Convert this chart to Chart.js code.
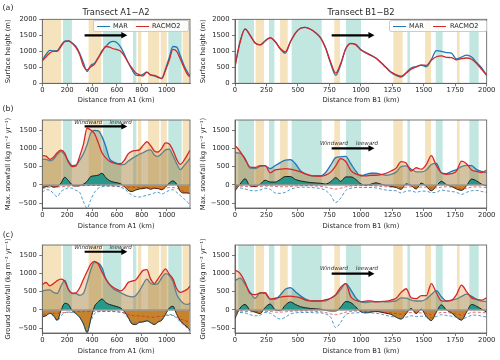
<!DOCTYPE html>
<html>
<head>
<meta charset="utf-8">
<script src="https://cdn.jsdelivr.net/npm/chart.js@4.4.0/dist/chart.umd.min.js"></script>
<style>
  body { margin: 0; width: 500px; height: 360px; position: relative; overflow: hidden; background: #fff;
         font-family: "DejaVu Sans", sans-serif; color: #262626; }
  canvas { position: absolute; }
  .t { position: absolute; transform: translate(-50%, -50%); line-height: 1; white-space: nowrap; }
  .leg { position: absolute; height: 12px; box-sizing: border-box; border: 0.8px solid #ccc; border-radius: 2px;
         background: rgba(255,255,255,0.85); font-size: 6.6px; }
  .leg i { position: absolute; top: 5.2px; width: 13px; height: 1.3px; }
  .leg span { position: absolute; top: 50%; transform: translateY(-50%); line-height: 1; white-space: nowrap; }
</style>
</head>
<body>
<canvas id="aL" width="195" height="94" style="left:0;top:12px"></canvas>
<canvas id="aR" width="305" height="94" style="left:195px;top:12px"></canvas>
<canvas id="bL" width="195" height="120" style="left:0;top:112px"></canvas>
<canvas id="bR" width="305" height="120" style="left:195px;top:112px"></canvas>
<canvas id="cL" width="195" height="120" style="left:0;top:237px"></canvas>
<canvas id="cR" width="305" height="120" style="left:195px;top:237px"></canvas>

<div class="t" style="left:8px;top:8px;font-size:7.8px">(a)</div>
<div class="t" style="left:8px;top:109px;font-size:7.8px">(b)</div>
<div class="t" style="left:8px;top:235px;font-size:7.8px">(c)</div>
<div class="t" style="left:116px;top:12.3px;font-size:8.4px">Transect A1−A2</div>
<div class="t" style="left:361px;top:12.3px;font-size:8.4px">Transect B1−B2</div>

<div class="leg" style="left:93px;top:20px;width:96px">
  <i style="left:3px;background:#1f77b4"></i><span style="left:19px">MAR</span>
  <i style="left:42px;background:#d62728"></i><span style="left:58px">RACMO2</span>
</div>
<div class="leg" style="left:389px;top:20px;width:98px">
  <i style="left:3px;background:#1f77b4"></i><span style="left:19px">MAR</span>
  <i style="left:43px;background:#d62728"></i><span style="left:60px">RACMO2</span>
</div>

<script>
// distance along the transects (km)
const distA = [0,30,60,90,120,150,180,210,240,270,300,330,360,390,420,450,480,510,540,570,600,630,660,690,720,750,780,810,840,870,900,930,960,990,1020,1050,1080,1110,1140,1170,1185];
const distB = [0,40,80,120,160,200,240,280,320,360,400,440,480,520,560,600,640,680,720,760,800,840,880,920,960,1000,1040,1080,1120,1160,1200,1240,1280,1320,1360,1400,1440,1480,1520,1560,1600,1640,1680,1720,1760,1800,1840,1880,1920,1960,2000];

const tickA = [0,200,400,600,800,1000];
const tickB = [0,250,500,750,1000,1250,1500,1750,2000];
const heightTicks = [0,500,1000,1500,2000];
const snowTicks = [-500,0,500,1000,1500];

// (a) surface height (m)
const heightMarA = [730,900,1030,1010,1020,1180,1320,1330,1260,1150,940,650,370,560,630,800,1020,1150,1270,1310,1270,1130,900,650,430,260,240,280,350,260,230,180,150,450,800,1150,1130,850,550,330,240];
const heightRacA = [700,820,950,1000,1000,1150,1300,1320,1250,1120,900,550,420,520,600,800,980,1150,1130,1080,1050,1000,850,650,480,330,270,230,350,260,250,200,150,400,720,1060,1000,750,480,260,200];
const heightMarB = [550,1300,1700,1500,1260,1200,1330,1430,1300,1070,940,1290,1570,1720,1750,1690,1580,1420,1100,620,250,580,1080,1250,1220,1060,960,880,780,640,490,340,250,190,330,480,520,570,520,740,1020,1000,960,940,760,820,880,820,650,480,250];
const heightRacB = [520,1280,1690,1500,1260,1200,1320,1420,1300,1090,980,1300,1570,1720,1750,1690,1580,1420,1100,660,320,620,1080,1240,1200,1040,950,870,790,650,500,350,270,220,320,440,510,570,560,720,830,860,810,800,730,770,790,750,620,440,250];

// (b) max. snowfall (kg m-2 yr-1)
const snowRacA = [800,790,700,760,880,950,870,620,500,520,780,1100,1550,1500,1400,1150,880,740,650,600,580,580,680,850,920,940,960,1080,1180,1080,930,900,1000,1150,1120,950,700,560,680,850,950];
const snowMarA = [700,700,660,700,830,920,820,650,530,540,680,850,1100,1420,1490,1480,1320,1050,720,630,590,550,560,650,720,780,840,880,940,960,820,780,860,960,980,800,580,420,530,650,730];
const snowDiffA = [-70,-50,-20,-60,-50,50,210,120,0,-30,-20,20,100,230,250,270,320,200,120,80,60,30,-40,-150,-180,-140,-110,-100,-80,-120,-90,-100,-130,-60,50,110,20,-180,-220,-220,-230];
const snowRacLossA = [-90,-80,-60,-60,-50,-50,-40,-35,-30,-30,-25,-20,-15,-15,-15,-15,-20,-25,-30,-35,-40,-45,-50,-60,-60,-65,-70,-75,-80,-85,-90,-95,-100,-90,-70,-70,-90,-130,-180,-220,-250];
const snowMarLossA = [-200,-130,-140,-240,-320,-180,-120,-80,-90,-150,-200,-450,-640,-400,-200,-90,-50,-30,-30,-30,-40,-60,-110,-200,-280,-320,-330,-310,-280,-260,-220,-200,-250,-200,-150,-130,-200,-290,-380,-480,-560];

const snowRacB = [1080,920,700,490,480,530,530,330,410,430,445,430,400,360,300,260,245,245,270,350,520,720,640,400,300,265,250,265,265,280,320,380,460,640,600,380,470,430,560,800,530,330,290,310,380,650,580,410,370,335,410];
const snowMarB = [880,870,720,460,450,510,520,445,530,610,680,690,580,390,300,250,245,245,340,540,745,770,780,580,380,245,290,320,320,290,265,290,350,500,520,430,360,355,410,560,590,330,310,370,420,500,535,525,420,370,335];
const snowDiffB = [-160,20,170,-30,-45,20,130,80,80,150,230,230,150,110,85,65,55,45,25,90,200,100,220,220,150,30,-5,20,60,20,-10,-40,-70,-120,30,-20,-110,50,-40,-160,-30,100,10,-40,-110,-150,-20,160,110,20,-30];
const snowRacLossB = [-30,-30,-40,-50,-50,-40,-30,-30,-40,-50,-50,-40,-30,-20,-20,-20,-30,-40,-60,-90,-110,-90,-50,-30,-20,-20,-20,-20,-30,-40,-50,-60,-60,-80,-60,-50,-60,-60,-60,-90,-80,-60,-50,-60,-80,-110,-90,-60,-50,-60,-70];
const snowMarLossB = [-70,-80,-110,-150,-160,-140,-90,-120,-220,-230,-200,-120,-80,-60,-60,-70,-80,-100,-150,-280,-480,-360,-150,-90,-70,-70,-70,-70,-80,-110,-140,-150,-160,-220,-170,-160,-200,-170,-170,-210,-200,-140,-160,-180,-200,-260,-200,-160,-150,-180,-200];

// (c) ground snowfall (kg m-2 yr-1)
const groundRacA = [690,750,660,720,800,840,780,560,460,470,600,830,1050,1250,1330,1250,1030,850,700,620,560,520,600,750,790,820,950,1080,1100,850,720,850,1000,1120,980,850,580,480,520,580,650];
const groundMarA = [520,540,550,480,450,650,810,560,450,450,400,450,750,1100,1300,1280,1150,850,700,580,520,470,420,380,360,390,520,700,840,730,700,720,880,990,950,780,430,260,170,150,180];
const groundDiffA = [-190,-160,-90,-150,-280,-20,180,150,-20,-100,-200,-380,-620,-250,100,220,300,200,150,120,90,50,-50,-200,-380,-400,-340,-330,-300,-350,-400,-330,-280,-120,50,100,-120,-300,-400,-480,-550];
const groundRacLossA = [-120,-110,-100,-90,-90,-80,-70,-60,-50,-45,-45,-45,-40,-40,-40,-40,-40,-40,-40,-45,-50,-60,-80,-120,-150,-160,-160,-170,-180,-200,-200,-180,-170,-160,-150,-150,-200,-250,-280,-320,-340];
const groundMarLossA = [-170,-140,-100,-180,-300,-160,-80,-60,-70,-100,-200,-360,-580,-300,-100,-50,-40,-40,-40,-40,-50,-60,-100,-220,-330,-360,-320,-310,-290,-330,-370,-320,-260,-150,-120,-150,-220,-330,-420,-520,-580];

const groundRacB = [1090,1000,760,450,420,460,470,300,320,350,370,380,360,330,270,250,245,245,280,320,420,620,720,360,260,230,240,250,220,230,240,270,320,480,580,330,310,390,390,720,470,250,240,260,420,680,500,330,290,270,330];
const groundMarB = [800,870,700,480,320,475,450,290,290,410,565,610,500,385,300,250,245,245,250,320,400,560,720,550,330,220,200,220,230,230,220,230,250,330,320,270,245,245,300,420,530,360,250,270,300,370,430,370,290,240,230];
const groundDiffB = [-230,50,150,-10,-60,-100,70,160,0,-20,130,220,150,90,60,40,30,20,-10,-30,-30,80,230,200,80,-50,-80,-60,-40,-60,-90,-120,-200,-250,-100,40,-100,20,-180,-290,-60,140,0,-80,-200,-280,-60,150,100,20,-60];
const groundRacLossB = [-30,-30,-40,-50,-50,-40,-40,-40,-60,-60,-50,-40,-30,-30,-30,-30,-40,-50,-70,-110,-130,-100,-60,-40,-30,-30,-40,-40,-50,-60,-70,-80,-100,-120,-90,-70,-80,-80,-90,-130,-100,-70,-70,-90,-110,-140,-110,-70,-60,-70,-80];
const groundMarLossB = [-80,-70,-80,-130,-160,-140,-70,-90,-180,-250,-200,-110,-80,-70,-70,-70,-80,-80,-110,-200,-480,-340,-130,-90,-80,-70,-70,-80,-90,-110,-150,-180,-200,-240,-200,-160,-180,-170,-180,-210,-180,-130,-150,-170,-200,-250,-200,-150,-140,-170,-190];

// shaded sections along each transect (km)
const wheatA = [[0,152],[372,474],[769,796],[850,940],[952,1000],[1128,1187]];
const tealA = [[166,238],[488,635],[729,756],[1013,1120]];
const wheatB = [[164,230],[358,419],[789,834],[1258,1332],[1510,1558],[1764,1785]];
const tealB = [[26,151],[270,313],[450,689],[882,1001],[1370,1391],[1595,1650],[1862,1936]];

// wind direction arrow (km) and the word centres (km)
const arrowA = [340, 675];
const arrowB = [768, 1100];
const wordsA = [370, 630];
const wordsB = [787, 1049];

const BLUE = '#1f77b4', RED = '#d62728';
const BLUE_DASH = 'rgba(31,119,180,0.85)', RED_DASH = 'rgba(214,39,40,0.75)';
const MAR_FILL = 'rgba(80,130,110,0.3)', RAC_FILL = 'rgba(230,150,60,0.33)';
const POS_FILL = '#27988a', NEG_FILL = '#c7832c';
const WHEAT = '#f5e3bd', TEAL = '#c2e7e0';
const AXIS = '#555', TEXT = '#262626', FONT = '"DejaVu Sans", sans-serif';
const tickFont = {family: FONT, size: 6.8};

function pts(xs, ys) {
    return xs.map((x, i) => ({x: x, y: ys[i]}));
}

// bands, zero line, frame and arrow drawn around the datasets
function decor(p) {
    return {
        id: 'decor',
        beforeDatasetsDraw(chart) {
            const {ctx, chartArea: a, scales: {x, y}} = chart;
            const bottom = p.diff ? y.getPixelForValue(0) : a.bottom;
            ctx.save();
            [[p.wheat, WHEAT], [p.teal, TEAL]].forEach(([list, color]) => {
                ctx.fillStyle = color;
                list.forEach(([s, e]) => {
                    const x0 = x.getPixelForValue(s);
                    const x1 = Math.min(x.getPixelForValue(e), a.right);
                    ctx.fillRect(x0, a.top, x1 - x0, bottom - a.top);
                });
            });
            ctx.restore();
        },
        afterDatasetDraw(chart, args) {
            if (!p.diff || args.index !== 2) return;
            const {ctx, chartArea: a, scales: {y}} = chart;
            const y0 = y.getPixelForValue(0);
            ctx.save();
            ctx.strokeStyle = '#9a9a9a';
            ctx.lineWidth = 1.4;
            ctx.beginPath();
            ctx.moveTo(a.left, y0);
            ctx.lineTo(a.right, y0);
            ctx.stroke();
            ctx.restore();
        },
        afterDatasetsDraw(chart) {
            const {ctx, chartArea: a, scales: {x, y}} = chart;
            ctx.save();
            ctx.strokeStyle = AXIS;
            ctx.lineWidth = 0.8;
            ctx.strokeRect(a.left, a.top, a.right - a.left, a.bottom - a.top);

            const ya = y.getPixelForValue(p.arrowY);
            const x0 = x.getPixelForValue(p.arrow[0]), x1 = x.getPixelForValue(p.arrow[1]);
            ctx.strokeStyle = '#000';
            ctx.lineWidth = 2.2;
            ctx.beginPath();
            ctx.moveTo(x0, ya);
            ctx.lineTo(x1 - 4, ya);
            ctx.stroke();
            ctx.fillStyle = '#000';
            ctx.beginPath();
            ctx.moveTo(x1 + 1, ya);
            ctx.lineTo(x1 - 5, ya - 3.2);
            ctx.lineTo(x1 - 5, ya + 3.2);
            ctx.closePath();
            ctx.fill();

            if (p.words) {
                const yw = y.getPixelForValue(p.wordsY);
                ctx.font = 'italic 5.6px ' + FONT;
                ctx.fillStyle = '#333';
                ctx.textAlign = 'center';
                ctx.textBaseline = 'middle';
                ctx.fillText('Windward', x.getPixelForValue(p.words[0]), yw);
                ctx.fillText('leeward', x.getPixelForValue(p.words[1]), yw);
            }
            ctx.restore();
        }
    };
}

function panel(id, p) {
    const line = (label, ys, color, width, order, extra) => Object.assign({
        label: label,
        data: pts(p.dist, ys),
        borderColor: color,
        borderWidth: width,
        pointRadius: 0,
        fill: false,
        cubicInterpolationMode: 'monotone',
        order: order
    }, extra || {});

    const datasets = p.diff ? [
        line('MAR', p.mar, BLUE, 1.3, 5, {fill: {target: 'origin', above: MAR_FILL, below: MAR_FILL}}),
        line('RACMO2', p.rac, RED, 1.3, 4, {fill: {target: 'origin', above: RAC_FILL, below: RAC_FILL}}),
        line('Difference', p.diff, '#111', 0.9, 3, {fill: {target: 'origin', above: POS_FILL, below: NEG_FILL}}),
        line('RACMO2 loss', p.racLoss, RED_DASH, 0.9, 2, {borderDash: [3, 2]}),
        line('MAR loss', p.marLoss, BLUE_DASH, 0.9, 1, {borderDash: [3, 2]})
    ] : [
        line('MAR', p.mar, BLUE, 1.3, 2),
        line('RACMO2', p.rac, RED, 1.3, 1)
    ];

    const plain = v => v < 0 ? '\u2212' + (-v) : String(v);

    return new Chart(document.getElementById(id).getContext('2d'), {
        type: 'line',
        data: {datasets: datasets},
        plugins: [decor(p)],
        options: {
            responsive: false,
            animation: false,
            devicePixelRatio: 1,
            events: [],
            layout: {padding: {top: p.padTop, right: p.padRight, left: 0, bottom: 0}},
            plugins: {legend: {display: false}, tooltip: {enabled: false}},
            scales: {
                x: {
                    type: 'linear',
                    min: 0,
                    max: p.xmax,
                    afterBuildTicks: s => { s.ticks = p.xticks.map(v => ({value: v})); },
                    afterFit: s => { s.height = p.xH; },
                    grid: {drawOnChartArea: false, tickLength: 3, tickColor: AXIS, tickWidth: 0.8},
                    border: {color: AXIS, width: 0.8},
                    ticks: {color: TEXT, font: tickFont, padding: 0, maxRotation: 0, autoSkip: false, callback: plain},
                    title: {display: true, text: p.xTitle, color: TEXT, font: tickFont, padding: {top: 0, bottom: 1.5}}
                },
                y: {
                    type: 'linear',
                    min: p.ymin,
                    max: p.ymax,
                    afterBuildTicks: s => { s.ticks = p.yticks.map(v => ({value: v})); },
                    afterFit: s => { s.width = p.yW; },
                    grid: {drawOnChartArea: false, tickLength: 3, tickColor: AXIS, tickWidth: 0.8},
                    border: {color: AXIS, width: 0.8},
                    ticks: {color: TEXT, font: tickFont, padding: 2.5, callback: plain},
                    title: {display: true, text: p.yTitle, color: TEXT, font: tickFont, padding: {top: 3.8, bottom: 0}}
                }
            }
        }
    });
}

const left = {dist: distA, xmax: 1187, xticks: tickA, xTitle: 'Distance from A1 (km)', yW: 42.3, padRight: 5,
              wheat: wheatA, teal: tealA, arrow: arrowA, words: wordsA};
const right = {dist: distB, xmax: 2000, xticks: tickB, xTitle: 'Distance from B1 (km)', yW: 40, padRight: 13.3,
               wheat: wheatB, teal: tealB, arrow: arrowB, words: wordsB};
const heightAxis = {ymin: 0, ymax: 2000, yticks: heightTicks, yTitle: 'Surface height (m)', padTop: 7.3, xH: 22.7};
const snowAxis = {ymin: -630, ymax: 1775, yticks: snowTicks, padTop: 8, xH: 24};

panel('aL', Object.assign({}, left, heightAxis, {mar: heightMarA, rac: heightRacA, arrowY: 1500, words: null}));
panel('aR', Object.assign({}, right, heightAxis, {mar: heightMarB, rac: heightRacB, arrowY: 1500, words: null}));

panel('bL', Object.assign({}, left, snowAxis, {
    yTitle: 'Max. snowfall (kg m\u207B\u00B2 yr\u207B\u00B9)',
    mar: snowMarA, rac: snowRacA, diff: snowDiffA, racLoss: snowRacLossA, marLoss: snowMarLossA,
    arrowY: 1600, wordsY: 1700}));
panel('bR', Object.assign({}, right, snowAxis, {
    yTitle: 'Max. snowfall (kg m\u207B\u00B2 yr\u207B\u00B9)',
    mar: snowMarB, rac: snowRacB, diff: snowDiffB, racLoss: snowRacLossB, marLoss: snowMarLossB,
    arrowY: 1000, wordsY: 1135}));

panel('cL', Object.assign({}, left, snowAxis, {
    yTitle: 'Ground snowfall (kg m\u207B\u00B2 yr\u207B\u00B9)',
    mar: groundMarA, rac: groundRacA, diff: groundDiffA, racLoss: groundRacLossA, marLoss: groundMarLossA,
    arrowY: 1590, wordsY: 1710}));
panel('cR', Object.assign({}, right, snowAxis, {
    yTitle: 'Ground snowfall (kg m\u207B\u00B2 yr\u207B\u00B9)',
    mar: groundMarB, rac: groundRacB, diff: groundDiffB, racLoss: groundRacLossB, marLoss: groundMarLossB,
    arrowY: 990, wordsY: 1130}));
</script>
</body>
</html>
